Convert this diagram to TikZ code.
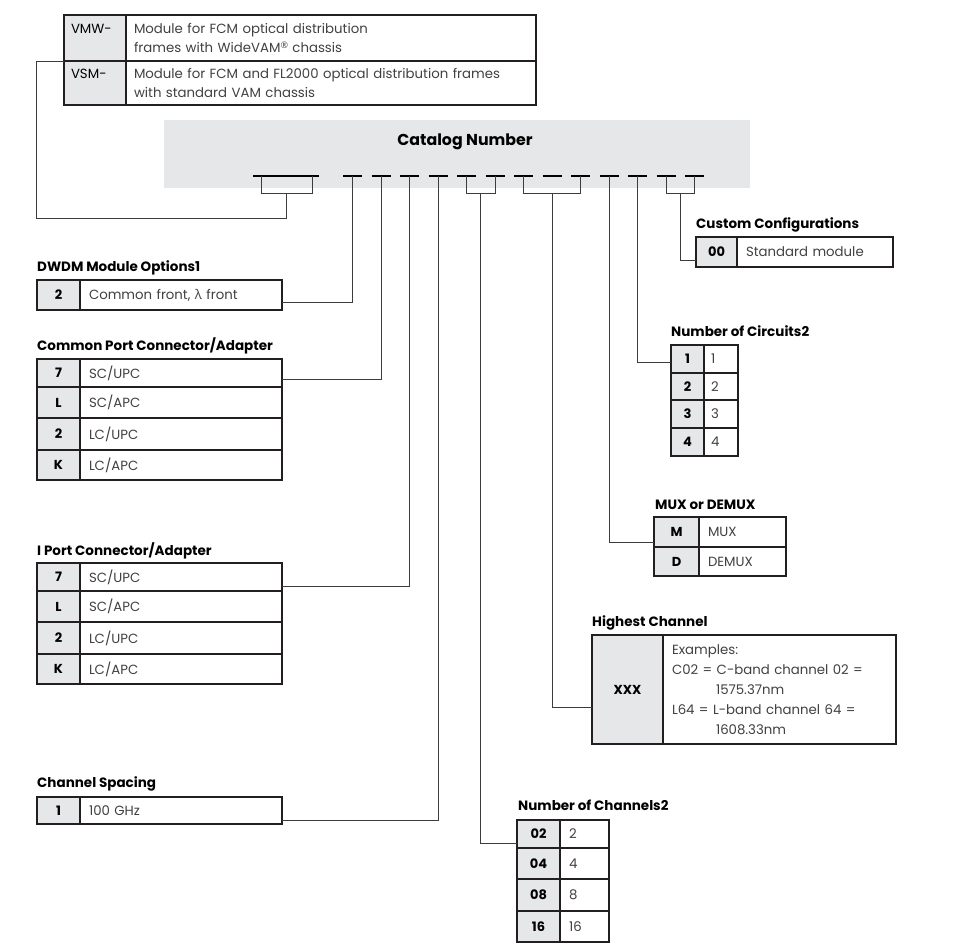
\documentclass[tikz,border=0pt]{standalone}
\usepackage{fontspec}
\setmainfont{Poppins}
\newfontfamily\grkfont{Open Sans}
\usetikzlibrary{positioning}
\definecolor{tabline}{HTML}{231F20}
\definecolor{wireline}{HTML}{3C3C3C}
\definecolor{codegray}{HTML}{E6E7E8}
\definecolor{desctext}{HTML}{414042}

\begin{document}
\begin{tikzpicture}[x=1pt,y=-1pt,
    cellcode/.style={draw=tabline, fill=codegray, line width=1.1pt, outer sep=0pt, inner sep=0pt,
      minimum width=#1, minimum height=29, font=\bfseries\fontsize{13}{15}\selectfont},
    celldesc/.style={draw=tabline, fill=white, line width=1.1pt, outer sep=0pt, inner xsep=9pt, inner ysep=0pt,
      text width=#1, align=left, minimum height=29, text=desctext, font=\fontsize{13.3}{15}\selectfont},
    tabhead/.style={anchor=base west, inner sep=0pt, font=\bfseries\fontsize{13.5}{15}\selectfont},
    wire/.style={draw=wireline, line width=1pt},
    bardash/.style={draw=black, line width=1.2pt}]
  \useasboundingbox (0,0) rectangle (953,951);

  % prefix box
  \node[cellcode=62, anchor=north west, minimum height=46, align=left, text width=48, inner xsep=7pt,
    font=\fontsize{13.3}{18.5}\selectfont] (vmw) at (64,15) {VMW-\\\phantom{X}};
  \node[celldesc=394, minimum height=46, inner xsep=8pt, font=\fontsize{13.3}{18.5}\selectfont, right=0pt of vmw] (vmwd)
    {Module for FCM optical distribution\\frames with WideVAM\raisebox{0.3em}{\grkfont\fontsize{9}{9}\selectfont ®} chassis};
  \node[cellcode=62, minimum height=44, align=left, text width=48, inner xsep=7pt,
    font=\fontsize{13.3}{18.5}\selectfont, below=0pt of vmw] (vsm) {VSM-\\\phantom{X}};
  \node[celldesc=394, minimum height=44, inner xsep=8pt, font=\fontsize{13.3}{18.5}\selectfont, right=0pt of vsm] (vsmd)
    {Module for FCM and FL2000 optical distribution frames\\with standard VAM chassis};

  % catalog number bar
  \node[fill=codegray, minimum width=586, minimum height=68, inner sep=0pt, anchor=north west] (catbar) at (164,120) {};
  \node[anchor=base, font=\bfseries\fontsize{15.8}{18}\selectfont] (cattitle) at (465,145.7) {Catalog Number};

  \coordinate (d1) at (352.5,176);
  \coordinate (d2) at (381,176);
  \coordinate (d3) at (409.5,176);
  \coordinate (d4) at (438,176);
  \coordinate (d5) at (466.5,176);
  \coordinate (d6) at (495,176);
  \coordinate (d7) at (523.5,176);
  \coordinate (d8) at (552,176);
  \coordinate (d9) at (580.5,176);
  \coordinate (d10) at (609,176);
  \coordinate (d11) at (637.5,176);
  \coordinate (d12) at (666,176);
  \coordinate (d13) at (694.5,176);
  \draw[bardash] (253,176) -- (319,176);
  \draw[bardash] ([xshift=-9.5pt]d1) -- ([xshift=9.5pt]d1);
  \draw[bardash] ([xshift=-9.5pt]d2) -- ([xshift=9.5pt]d2);
  \draw[bardash] ([xshift=-9.5pt]d3) -- ([xshift=9.5pt]d3);
  \draw[bardash] ([xshift=-9.5pt]d4) -- ([xshift=9.5pt]d4);
  \draw[bardash] ([xshift=-9.5pt]d5) -- ([xshift=9.5pt]d5);
  \draw[bardash] ([xshift=-9.5pt]d6) -- ([xshift=9.5pt]d6);
  \draw[bardash] ([xshift=-9.5pt]d7) -- ([xshift=9.5pt]d7);
  \draw[bardash] ([xshift=-9.5pt]d8) -- ([xshift=9.5pt]d8);
  \draw[bardash] ([xshift=-9.5pt]d9) -- ([xshift=9.5pt]d9);
  \draw[bardash] ([xshift=-9.5pt]d10) -- ([xshift=9.5pt]d10);
  \draw[bardash] ([xshift=-9.5pt]d11) -- ([xshift=9.5pt]d11);
  \draw[bardash] ([xshift=-9.5pt]d12) -- ([xshift=9.5pt]d12);
  \draw[bardash] ([xshift=-9.5pt]d13) -- ([xshift=9.5pt]d13);

  % brackets under the bar
  \draw[wire] (261,176) -- (261,193) -- (312,193) -- (312,176);
  \draw[wire] (d5) -- (466.5,193) -- (495,193) -- (d6);
  \draw[wire] (d7) -- (523.5,193) -- (580.5,193) -- (d9);
  \draw[wire] (d12) -- (666,193) -- (694.5,193) -- (d13);
  \coordinate (b0) at (286.5,193);
  \coordinate (b1) at (480.75,193);
  \coordinate (b2) at (552,193);
  \coordinate (b3) at (680.25,193);

  % custom configurations
  \node[tabhead] (cchead) at (696,228) {Custom Configurations};
  \node[cellcode=41, anchor=north west, minimum height=30] (cc1) at (696,237) {00};
  \node[celldesc=138, minimum height=30, right=0pt of cc1] (cc1d) {Standard module};

  % DWDM module options
  \node[tabhead] (dwhead) at (37,271) {DWDM Module Options1};
  \node[cellcode=43, anchor=north west, minimum height=30] (dw1) at (37,280) {2};
  \node[celldesc=184, minimum height=30, right=0pt of dw1] (dw1d) {Common front, {\grkfont λ} front};

  % common port
  \node[tabhead] (cphead) at (37,350) {Common Port Connector/Adapter};
  \node[cellcode=43, anchor=north west, minimum height=28] (cp1) at (37,359) {7};
  \node[celldesc=184, minimum height=28, right=0pt of cp1] (cp1d) {SC/UPC};
  \node[cellcode=43, minimum height=31, below=0pt of cp1] (cp2) {L};
  \node[celldesc=184, minimum height=31, right=0pt of cp2] (cp2d) {SC/APC};
  \node[cellcode=43, minimum height=32, below=0pt of cp2] (cp3) {2};
  \node[celldesc=184, minimum height=32, right=0pt of cp3] (cp3d) {LC/UPC};
  \node[cellcode=43, minimum height=30, below=0pt of cp3] (cp4) {K};
  \node[celldesc=184, minimum height=30, right=0pt of cp4] (cp4d) {LC/APC};

  % I port
  \node[tabhead] (iphead) at (37,555) {I Port Connector/Adapter};
  \node[cellcode=43, anchor=north west, minimum height=28] (ip1) at (37,563) {7};
  \node[celldesc=184, minimum height=28, right=0pt of ip1] (ip1d) {SC/UPC};
  \node[cellcode=43, minimum height=31, below=0pt of ip1] (ip2) {L};
  \node[celldesc=184, minimum height=31, right=0pt of ip2] (ip2d) {SC/APC};
  \node[cellcode=43, minimum height=32, below=0pt of ip2] (ip3) {2};
  \node[celldesc=184, minimum height=32, right=0pt of ip3] (ip3d) {LC/UPC};
  \node[cellcode=43, minimum height=30, below=0pt of ip3] (ip4) {K};
  \node[celldesc=184, minimum height=30, right=0pt of ip4] (ip4d) {LC/APC};

  % channel spacing
  \node[tabhead] (cshead) at (37,787) {Channel Spacing};
  \node[cellcode=43, anchor=north west, minimum height=27] (cs1) at (37,797) {1};
  \node[celldesc=184, minimum height=27, right=0pt of cs1] (cs1d) {100 GHz};

  % number of circuits
  \node[tabhead] (nchead) at (671,336.7) {Number of Circuits2};
  \node[cellcode=33, anchor=north west, minimum height=28] (nc1) at (671,345) {1};
  \node[celldesc=20, inner xsep=7pt, minimum height=28, right=0pt of nc1] (nc1d) {1};
  \node[cellcode=33, minimum height=27, below=0pt of nc1] (nc2) {2};
  \node[celldesc=20, inner xsep=7pt, minimum height=27, right=0pt of nc2] (nc2d) {2};
  \node[cellcode=33, minimum height=28, below=0pt of nc2] (nc3) {3};
  \node[celldesc=20, inner xsep=7pt, minimum height=28, right=0pt of nc3] (nc3d) {3};
  \node[cellcode=33, minimum height=28, below=0pt of nc3] (nc4) {4};
  \node[celldesc=20, inner xsep=7pt, minimum height=28, right=0pt of nc4] (nc4d) {4};

  % mux or demux
  \node[tabhead] (mxhead) at (655,509) {MUX or DEMUX};
  \node[cellcode=45, anchor=north west, minimum height=30] (mx1) at (654,517) {M};
  \node[celldesc=69, minimum height=30, right=0pt of mx1] (mx1d) {MUX};
  \node[cellcode=45, minimum height=29, below=0pt of mx1] (mx2) {D};
  \node[celldesc=69, minimum height=29, right=0pt of mx2] (mx2d) {DEMUX};

  % highest channel
  \node[tabhead] (hchead) at (592,626) {Highest Channel};
  \node[cellcode=71, anchor=north west, minimum height=109] (hc1) at (592,635) {XXX};
  \node[celldesc=215, minimum height=109, font=\fontsize{13.3}{20}\selectfont, right=0pt of hc1] (hc1d)
    {Examples:\\C02 = C-band channel 02 =\\\hspace*{44pt}1575.37nm\\L64 = L-band channel 64 =\\\hspace*{44pt}1608.33nm};

  % number of channels
  \node[tabhead] (chhead) at (518,810.7) {Number of Channels2};
  \node[cellcode=43, anchor=north west, minimum height=28] (ch1) at (517,820) {02};
  \node[celldesc=31, minimum height=28, right=0pt of ch1] (ch1d) {2};
  \node[cellcode=43, minimum height=31, below=0pt of ch1] (ch2) {04};
  \node[celldesc=31, minimum height=31, right=0pt of ch2] (ch2d) {4};
  \node[cellcode=43, minimum height=32, below=0pt of ch2] (ch3) {08};
  \node[celldesc=31, minimum height=32, right=0pt of ch3] (ch3d) {8};
  \node[cellcode=43, minimum height=31, below=0pt of ch3] (ch4) {16};
  \node[celldesc=31, minimum height=31, right=0pt of ch4] (ch4d) {16};

  % connectors
  \draw[wire] (b0) -- ++(0,25) -| ([xshift=-27.6pt]vsm.north west) -- (vsm.north west);
  \draw[wire] (d1) |- ([yshift=-7pt]dw1d.east);
  \draw[wire] (d2) |- ([yshift=-6.5pt]cp1d.east);
  \draw[wire] (d3) |- ([yshift=-9pt]ip1d.east);
  \draw[wire] (d4) |- ([yshift=-9.5pt]cs1d.east);
  \draw[wire] (b1) |- ([yshift=-9pt]ch1.west);
  \draw[wire] (b2) |- ([yshift=-17.5pt]hc1.west);
  \draw[wire] (d10) |- ([yshift=-10pt]mx1.west);
  \draw[wire] (d11) |- ([yshift=-3pt]nc1.west);
  \draw[wire] (b3) |- ([yshift=-8pt]cc1.west);
\end{tikzpicture}
\end{document}
